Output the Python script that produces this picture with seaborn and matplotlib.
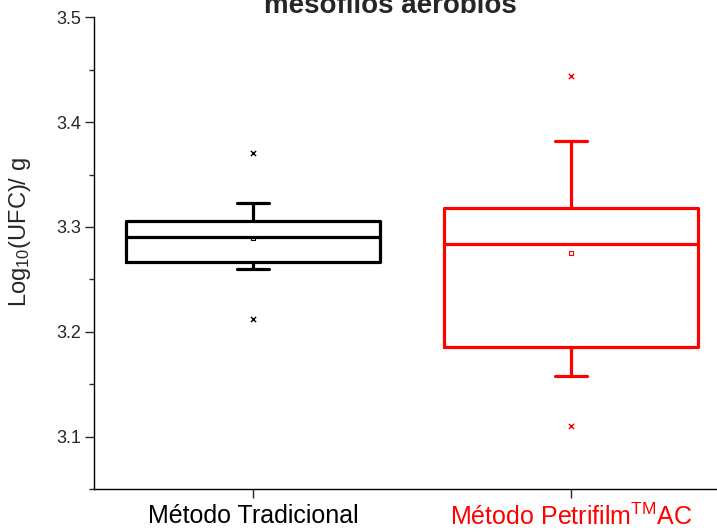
import matplotlib
matplotlib.use("Agg")
import matplotlib.pyplot as plt
from matplotlib.ticker import MultipleLocator
import numpy as np
import pandas as pd
import seaborn as sns

# Category labels and colours
methods = ["Método Tradicional", "Método Petrifilm$^{\\mathregular{TM}}$AC"]
method_keys = ["tradicional", "petrifilm"]
method_colors = ["black", "red"]

# Box summaries: lower whisker, Q1, median, Q3, upper whisker
tradicional_box = [3.260, 3.267, 3.290, 3.306, 3.323]
petrifilm_box = [3.158, 3.185, 3.284, 3.318, 3.382]

# Means and extreme values (min / max)
means = [3.289, 3.275]
tradicional_extremes = [3.212, 3.371]
petrifilm_extremes = [3.110, 3.444]

y_ticks = [3.1, 3.2, 3.3, 3.4, 3.5]

sns.set_style("ticks")
plt.rcParams["font.family"] = ["Liberation Sans", "DejaVu Sans"]
plt.rcParams["mathtext.default"] = "regular"

fig = plt.figure(figsize=(7.17, 5.32), dpi=100)
ax = fig.add_axes([0.131, 0.0808, 0.869, 0.8867])

df = pd.DataFrame({
    "metodo": [method_keys[0]] * len(tradicional_box) + [method_keys[1]] * len(petrifilm_box),
    "valor": tradicional_box + petrifilm_box,
})

sns.boxplot(
    data=df, x="metodo", y="valor", hue="metodo", order=method_keys,
    palette=dict(zip(method_keys, method_colors)), fill=False,
    whis=(0, 100), width=0.8, linewidth=2.3, showfliers=False,
    legend=False, capwidths=0.1, ax=ax,
)

positions = np.arange(len(methods))
extremes = [tradicional_extremes, petrifilm_extremes]
for pos, color, ext in zip(positions, method_colors, extremes):
    ax.scatter([pos] * len(ext), ext, marker="x", s=14, linewidths=1.0,
               color=color, zorder=5)
ax.scatter(positions, means, marker="s", s=8, linewidths=0.8,
           facecolors="none", edgecolors=method_colors, zorder=5)

ax.set_xlim(-0.5, 1.459)
ax.set_ylim(3.05, 3.5)
ax.set_yticks(y_ticks)
ax.set_yticklabels([f"{t:.1f}" for t in y_ticks])
ax.yaxis.set_minor_locator(MultipleLocator(0.05))
ax.set_xticks(positions)
ax.set_xticklabels(methods, fontsize=18)
for lbl, color in zip(ax.get_xticklabels(), method_colors):
    lbl.set_color(color)

ax.tick_params(axis="y", which="major", direction="out", length=6.5, width=1.0,
               labelsize=13, pad=3)
ax.tick_params(axis="y", which="minor", direction="out", length=3.6, width=1.0)
ax.tick_params(axis="x", which="major", direction="out", length=6.5, width=1.0, pad=4)

for side in ["top", "right"]:
    ax.spines[side].set_visible(False)
for side in ["left", "bottom"]:
    ax.spines[side].set_linewidth(1.0)
    ax.spines[side].set_color("black")

ax.set_xlabel("")
ax.set_ylabel("Log$_{10}$(UFC)/ g", fontsize=17)
ax.yaxis.set_label_coords(-0.098, 0.545)

fig.text(390 / 717, 1 - 13 / 532, "mesófilos aeróbios", ha="center", va="baseline",
         fontsize=20, fontweight="bold")

fig.savefig("out.png", dpi=100)
